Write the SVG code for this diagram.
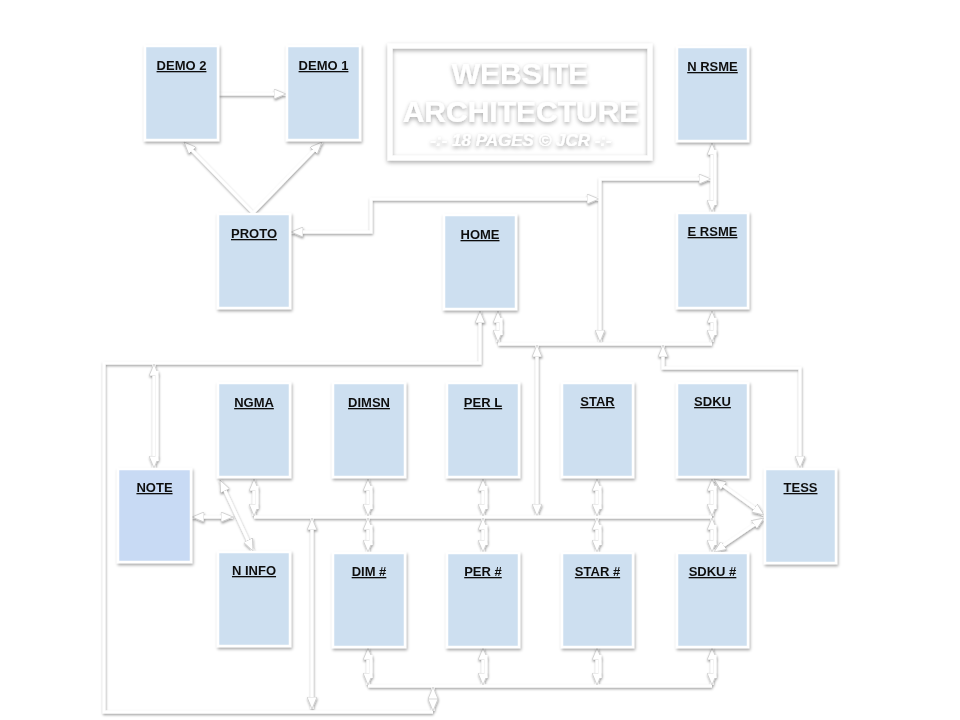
<svg xmlns="http://www.w3.org/2000/svg" width="960" height="720" viewBox="0 0 960 720">
<defs>
<filter id="sh" x="-20%" y="-20%" width="140%" height="140%"><feDropShadow dx="1" dy="2" stdDeviation="1.5" flood-color="#000" flood-opacity="0.35"/></filter>
<filter id="lsh" x="-5%" y="-5%" width="110%" height="110%"><feDropShadow dx="0.5" dy="1.5" stdDeviation="1.2" flood-color="#000" flood-opacity="0.4"/></filter>
<filter id="tsh" x="-10%" y="-20%" width="120%" height="140%"><feDropShadow dx="0" dy="2" stdDeviation="2" flood-color="#000" flood-opacity="0.35"/></filter>
<marker id="ah" viewBox="0 0 12 10" refX="12" refY="5" markerWidth="12" markerHeight="10" markerUnits="userSpaceOnUse" orient="auto-start-reverse"><path d="M0,0 L12,5 L0,10 z" fill="#fff" stroke="#c4c4c4" stroke-width="0.7"/></marker>
</defs>
<style>
.node rect{fill:#cddff0;stroke:#fff;stroke-width:2.5}
#note rect{fill:#c8daf4}
.node text{font-family:"Liberation Sans",Arial,sans-serif;font-weight:bold;font-size:13px;fill:#111;text-anchor:middle;text-decoration:underline}
.c{fill:none;stroke:#fff;stroke-width:3}
.a2{marker-start:url(#ah);marker-end:url(#ah)}
.ae{marker-end:url(#ah)}
.as{marker-start:url(#ah)}
.t{font-family:"Liberation Sans",Arial,sans-serif;font-weight:bold;fill:#fff;text-anchor:middle}
</style>
<rect width="960" height="720" fill="#fff"/>

<g id="title" filter="url(#tsh)">
<rect x="390" y="46" width="260" height="112" fill="none" stroke="#fff" stroke-width="5"/>
<text class="t" x="520" y="84" font-size="30">WEBSITE</text>
<text class="t" x="521" y="122" font-size="30">ARCHITECTURE</text>
<text class="t" x="521" y="146" font-size="17" font-style="italic">-:- 18 PAGES © JCR -:-</text>
</g>

<g id="connectors" filter="url(#lsh)">
<path class="c ae" d="M219,94 L286,94"/>
<path class="c ae" d="M253,213 L184,142"/>
<path class="c ae" d="M253,213 L322,142"/>
<path class="c a2" d="M291,232 L371,232 L371,199 L599,199"/>
<path class="c a2" d="M600,342 L600,179 L711,179"/>
<path class="c a2" d="M712,143 L712,212"/><path class="c" d="M715,150 L715,205"/>
<path class="c a2" d="M498,311 L498,342"/><path class="c" d="M501,318 L501,335"/>
<path class="c a2" d="M712,311 L712,342"/><path class="c" d="M715,318 L715,335"/>
<path class="c" d="M498,344 L712,344"/>
<path class="c a2" d="M537,345 L537,516"/>
<path class="c a2" d="M663,345 L663,368 L800,368 L800,468"/>
<path class="c as" d="M480,311 L480,363 L104,363 L104,712 L433,712"/>
<path class="c a2" d="M154,364 L154,468"/><path class="c" d="M157,371 L157,461"/>
<path class="c" d="M254,517 L712,517"/>
<path class="c a2" d="M254,479 L254,516"/><path class="c" d="M257,486 L257,509"/>
<path class="c a2" d="M368,479 L368,516"/><path class="c" d="M371,486 L371,509"/>
<path class="c a2" d="M483,479 L483,516"/><path class="c" d="M486,486 L486,509"/>
<path class="c a2" d="M597,479 L597,516"/><path class="c" d="M600,486 L600,509"/>
<path class="c a2" d="M712,479 L712,516"/><path class="c" d="M715,486 L715,509"/>
<path class="c a2" d="M368,518 L368,552"/><path class="c" d="M371,525 L371,545"/>
<path class="c a2" d="M483,518 L483,552"/><path class="c" d="M486,525 L486,545"/>
<path class="c a2" d="M597,518 L597,552"/><path class="c" d="M600,525 L600,545"/>
<path class="c a2" d="M712,518 L712,552"/><path class="c" d="M715,525 L715,545"/>
<path class="c a2" d="M312,518 L312,709"/>
<path class="c" d="M368,686 L712,686"/>
<path class="c a2" d="M368,648 L368,685"/><path class="c" d="M371,655 L371,678"/>
<path class="c a2" d="M483,648 L483,685"/><path class="c" d="M486,655 L486,678"/>
<path class="c a2" d="M597,648 L597,685"/><path class="c" d="M600,655 L600,678"/>
<path class="c a2" d="M712,648 L712,685"/><path class="c" d="M715,655 L715,678"/>
<path class="c a2" d="M433,687 L433,711"/>
<path class="c a2" d="M192,517 L233,517"/>
<path class="c a2" d="M220,480 L253,551"/>
<path class="c a2" d="M714,479 L764,515"/>
<path class="c a2" d="M714,552 L764,518"/>
</g>

<g id="demo2" class="node" filter="url(#sh)"><rect x="145" y="46" width="73" height="94"/><text x="181.5" y="70">DEMO 2</text></g>
<g id="demo1" class="node" filter="url(#sh)"><rect x="287" y="46" width="73" height="94"/><text x="323.5" y="70">DEMO 1</text></g>
<g id="nrsme" class="node" filter="url(#sh)"><rect x="677" y="47" width="71" height="94"/><text x="712.5" y="71">N RSME</text></g>
<g id="proto" class="node" filter="url(#sh)"><rect x="218" y="214" width="72" height="94"/><text x="254" y="238">PROTO</text></g>
<g id="home" class="node" filter="url(#sh)"><rect x="444" y="215" width="72" height="94"/><text x="480" y="239">HOME</text></g>
<g id="ersme" class="node" filter="url(#sh)"><rect x="677" y="213" width="71" height="95"/><text x="712.5" y="236">E RSME</text></g>
<g id="ngma" class="node" filter="url(#sh)"><rect x="218" y="383" width="72" height="94"/><text x="254" y="407">NGMA</text></g>
<g id="dimsn" class="node" filter="url(#sh)"><rect x="333" y="383" width="72" height="94"/><text x="369" y="407">DIMSN</text></g>
<g id="perl" class="node" filter="url(#sh)"><rect x="447" y="383" width="72" height="94"/><text x="483" y="407">PER L</text></g>
<g id="star" class="node" filter="url(#sh)"><rect x="562" y="383" width="71" height="94"/><text x="597.5" y="406">STAR</text></g>
<g id="sdku" class="node" filter="url(#sh)"><rect x="677" y="383" width="71" height="94"/><text x="712.5" y="406">SDKU</text></g>
<g id="note" class="node" filter="url(#sh)"><rect x="118" y="469" width="73" height="93"/><text x="154.5" y="492">NOTE</text></g>
<g id="tess" class="node" filter="url(#sh)"><rect x="765" y="469" width="71" height="94"/><text x="800.5" y="492">TESS</text></g>
<g id="ninfo" class="node" filter="url(#sh)"><rect x="218" y="552" width="72" height="94"/><text x="254" y="575">N INFO</text></g>
<g id="dimh" class="node" filter="url(#sh)"><rect x="333" y="553" width="72" height="94"/><text x="369" y="576">DIM #</text></g>
<g id="perh" class="node" filter="url(#sh)"><rect x="447" y="553" width="72" height="94"/><text x="483" y="576">PER #</text></g>
<g id="starh" class="node" filter="url(#sh)"><rect x="562" y="553" width="71" height="94"/><text x="597.5" y="576">STAR #</text></g>
<g id="sdkuh" class="node" filter="url(#sh)"><rect x="677" y="553" width="71" height="94"/><text x="712.5" y="576">SDKU #</text></g>
</svg>
